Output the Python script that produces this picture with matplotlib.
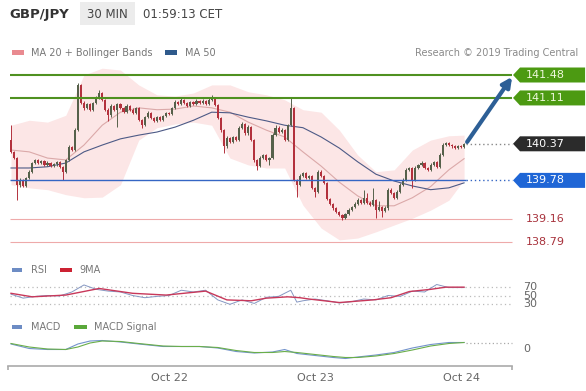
import matplotlib
matplotlib.use('Agg')
import matplotlib.pyplot as plt
from matplotlib.patches import Rectangle, Polygon
import numpy as np

# ---------------- DATA ----------------
first_open = 140.43
closes = [
    140.24, 140.14, 139.71, 139.79, 139.69, 139.82, 139.92, 140.06, 140.11, 140.06,
    140.09, 140.03, 140.06, 140.01, 140.04, 140.08, 140.00, 139.92, 140.11, 140.32,
    140.27, 140.59, 141.32, 141.03, 140.95, 141.01, 140.92, 141.03, 141.11, 141.19,
    141.08, 140.92, 140.83, 140.98, 140.92, 141.01, 140.95, 140.88, 140.98, 140.92,
    140.87, 140.95, 140.75, 140.67, 140.80, 140.87, 140.79, 140.74, 140.80, 140.75,
    140.82, 140.87, 140.85, 140.95, 141.04, 141.01, 141.08, 141.03, 140.98, 141.04,
    141.01, 141.06, 141.03, 141.06, 141.01, 141.08, 141.11, 141.00, 140.79, 140.59,
    140.33, 140.46, 140.40, 140.48, 140.43, 140.63, 140.69, 140.54, 140.64, 140.43,
    140.11, 140.01, 140.14, 140.19, 140.11, 140.14, 140.51, 140.63, 140.56, 140.59,
    140.43, 140.67, 140.95, 139.79, 139.71, 139.85, 139.90, 139.82, 139.85, 139.66,
    139.59, 139.92, 139.85, 139.74, 139.48, 139.40, 139.33, 139.27, 139.22, 139.17,
    139.24, 139.30, 139.35, 139.40, 139.46, 139.42, 139.50, 139.42, 139.38, 139.46,
    139.30, 139.35, 139.29, 139.33, 139.63, 139.58, 139.50, 139.59, 139.71, 139.79,
    139.95, 139.98, 139.79, 139.98, 140.03, 140.06, 139.98, 139.95, 140.03, 140.08,
    140.00, 140.19, 140.35, 140.38, 140.35, 140.33, 140.30, 140.33, 140.32, 140.37,
]
# wick extensions beyond the body, in hundredths of a yen
wick_hi = [
    24, 2, 2, 3, 2, 2, 3, 2, 2, 2,
    2, 2, 3, 2, 2, 2, 2, 2, 2, 3,
    2, 3, 3, 2, 3, 2, 2, 2, 3, 5,
    2, 2, 2, 3, 2, 2, 2, 2, 3, 2,
    2, 2, 2, 2, 2, 3, 2, 2, 2, 2,
    2, 2, 2, 2, 3, 2, 3, 2, 2, 2,
    2, 3, 2, 3, 2, 3, 4, 2, 2, 2,
    2, 3, 2, 2, 2, 3, 3, 2, 3, 2,
    2, 2, 3, 2, 2, 2, 3, 4, 2, 3,
    2, 2, 16, 2, 2, 3, 2, 2, 2, 2,
    2, 3, 2, 2, 2, 2, 2, 2, 2, 2,
    2, 3, 2, 3, 3, 2, 12, 8, 2, 20,
    2, 10, 2, 3, 3, 2, 2, 3, 3, 3,
    3, 2, 2, 3, 2, 3, 2, 2, 3, 2,
    2, 3, 3, 2, 2, 2, 2, 2, 2, 2,
]
wick_lo = [
    2, 2, 25, 3, 2, 2, 2, 2, 2, 2,
    2, 2, 2, 2, 2, 2, 2, 13, 2, 2,
    2, 2, 2, 2, 3, 2, 2, 2, 2, 2,
    2, 2, 9, 2, 2, 28, 2, 2, 2, 2,
    2, 2, 2, 5, 2, 2, 2, 2, 2, 2,
    2, 2, 2, 2, 2, 2, 2, 2, 2, 2,
    2, 2, 2, 2, 2, 2, 2, 2, 2, 3,
    11, 2, 2, 2, 2, 2, 2, 2, 2, 2,
    3, 6, 2, 2, 2, 8, 2, 2, 2, 2,
    2, 2, 2, 2, 20, 2, 2, 2, 2, 2,
    8, 2, 2, 2, 2, 2, 2, 2, 2, 3,
    2, 2, 2, 2, 2, 2, 2, 2, 2, 2,
    13, 2, 10, 2, 2, 2, 2, 2, 2, 2,
    2, 2, 13, 2, 2, 2, 2, 2, 2, 2,
    2, 2, 2, 2, 2, 2, 2, 2, 2, 2,
]

ma_idx = [0, 6, 12, 18, 24, 30, 36, 42, 48, 54, 60, 66, 72, 78, 84, 90, 96, 102,
          108, 114, 120, 126, 132, 138, 144, 149]
ma20 = [140.27, 140.24, 140.14, 140.11, 140.35, 140.67, 140.88, 140.95, 140.92, 140.93,
        140.98, 140.95, 140.88, 140.72, 140.59, 140.48, 140.24, 140.01, 139.75, 139.53,
        139.37, 139.37, 139.50, 139.68, 139.95, 140.13]
bb_upper = [140.67, 140.75, 140.72, 140.83, 141.48, 141.59, 141.56, 141.32, 141.16, 141.14,
            141.19, 141.32, 141.32, 141.21, 141.16, 141.08, 140.92, 140.88, 140.59, 140.19,
            139.92, 139.95, 140.27, 140.43, 140.50, 140.51]
bb_lower = [139.71, 139.66, 139.63, 139.55, 139.50, 139.51, 139.71, 140.43, 140.63, 140.69,
            140.72, 140.67, 140.14, 140.03, 139.98, 139.98, 139.38, 139.01, 138.82, 138.85,
            138.95, 139.06, 139.17, 139.30, 139.46, 139.79]
ma50 = [139.98, 139.98, 140.00, 140.06, 140.24, 140.35, 140.45, 140.51, 140.56, 140.64,
        140.75, 140.88, 140.87, 140.80, 140.74, 140.67, 140.63, 140.48, 140.30, 140.08,
        139.88, 139.77, 139.69, 139.63, 139.66, 139.74]

resistances = [141.48, 141.11]
pivot = 139.78
supports = [139.16, 138.79]
last_price = 140.37

rsi_idx = [0, 4, 8, 12, 16, 20, 24, 28, 32, 36, 40, 44, 48, 52, 56, 60, 64, 68, 72, 76,
           80, 84, 88, 92, 94, 96, 100, 104, 108, 112, 116, 120, 124, 128, 132, 136, 140, 144, 149]
rsi_val = [53, 44, 48, 50, 49, 58, 74, 64, 60, 58, 50, 45, 48, 50, 62, 58, 62, 40, 30, 40,
           32, 46, 48, 62, 35, 38, 42, 38, 33, 36, 42, 40, 50, 48, 60, 58, 75, 68, 68]
rsi9_idx = [0, 7, 18, 29, 40, 51, 64, 71, 79, 84, 91, 95, 98, 108, 119, 125, 131, 138, 143, 149]
rsi9_val = [55, 47, 51, 66, 55, 51, 60, 40, 38, 44, 47, 45, 42, 34, 40, 45, 59, 64, 69, 69]
rsi_levels = [70, 50, 30]

macd_idx = [0, 6, 12, 18, 22, 26, 30, 36, 42, 50, 56, 62, 68, 74, 80, 86, 90, 94, 100, 106,
            110, 114, 120, 126, 132, 138, 144, 149]
macd_val = [0.050, 0.005, -0.005, -0.005, 0.050, 0.080, 0.085, 0.070, 0.050, 0.025,
            0.025, 0.025, 0.010, -0.025, -0.040, -0.030, -0.005, -0.045, -0.065, -0.085,
            -0.095, -0.080, -0.060, -0.035, 0.010, 0.045, 0.065, 0.065]
signal_val = [0.055, 0.020, 0.000, -0.005, 0.020, 0.060, 0.080, 0.075, 0.055, 0.030,
              0.025, 0.025, 0.015, -0.015, -0.035, -0.035, -0.025, -0.035, -0.055, -0.075,
              -0.085, -0.085, -0.070, -0.045, -0.010, 0.030, 0.055, 0.065]

date_ticks = [52, 100, 148]
date_labels = ['Oct 22', 'Oct 23', 'Oct 24']

# ---------------- LAYOUT ----------------
W, H = 586, 391
fig = plt.figure(figsize=(W / 100, H / 100), dpi=100)
fig.patch.set_facecolor('white')
plt.rcParams['font.family'] = ['DejaVu Sans']


def axes_px(x0, y0, x1, y1):
    a = fig.add_axes([x0 / W, 1 - y1 / H, (x1 - x0) / W, (y1 - y0) / H])
    a.set_axis_off()
    a.patch.set_alpha(0)
    return a


XLIM = (-0.99, 189.1)          # maps to pixels 8 .. 586
X_LINE0, X_LINE1 = -0.33, 164.8  # pixel 10 .. 512
X_TIP, X_SH, X_END = 165.1, 167.4, 188.8

# ---------- main price panel ----------
ax = axes_px(8, 60, 586, 250)
ax.set_xlim(*XLIM)
ax.set_ylim(138.657, 141.722)
ppx = 62.0  # pixels per yen

ax.fill_between(ma_idx, bb_lower, bb_upper, color='#fce6e6', lw=0, zorder=1)
ax.plot(ma_idx, ma20, color='#dba9a9', lw=0.8, zorder=2)
ax.plot(ma_idx, ma50, color='#4d5a86', lw=0.8, zorder=2)

n = len(closes)
idx = np.arange(n)
c = np.array(closes)
o = np.concatenate([[first_open], c[:-1]])
hi = np.maximum(o, c) + np.array(wick_hi) / 100
lo = np.minimum(o, c) - np.array(wick_lo) / 100
up = c >= o
col = np.where(up, '#56614b', '#b3313d')
ax.vlines(idx, lo, hi, colors=col, lw=0.7, zorder=3)
body_b = np.minimum(o, c)
body_h = np.maximum(np.abs(c - o), 0.012)
ax.bar(idx, body_h, bottom=body_b, width=0.7, color=col, lw=0, zorder=3)

# level lines
for lv in resistances:
    ax.hlines(lv, X_LINE0, X_LINE1, color='#4f9120', lw=1.5, zorder=4)
ax.hlines(pivot, X_LINE0, idx[-1] + 0.5, color='#3566c4', lw=1.0, zorder=4)
ax.hlines(pivot, idx[-1] + 0.5, X_LINE1, color='#3566c4', lw=1.0, ls=(0, (1, 2)), zorder=4)
ax.hlines(last_price, idx[-1] + 0.5, X_LINE1, color='#888888', lw=1.0, ls=(0, (1, 2)), zorder=4)
for lv in supports:
    ax.hlines(lv, X_LINE0, X_LINE1, color='#eeaaaa', lw=0.8, zorder=2)


def tag(level, face, tcol):
    hh = 7.5 / ppx
    poly = Polygon([(X_TIP, level), (X_SH, level + hh), (X_END, level + hh),
                    (X_END, level - hh), (X_SH, level - hh)], closed=True,
                   facecolor=face, edgecolor='none', zorder=5, clip_on=False)
    ax.add_patch(poly)
    ax.text(X_SH + 2.0, level, f'{level:.2f}', color=tcol, fontsize=8,
            va='center', ha='left', zorder=6)


for lv in resistances:
    tag(lv, '#4c9a12', '#eef8dc')
tag(last_price, '#2b2b2b', '#ffffff')
tag(pivot, '#1f66d6', '#ffffff')
for lv in supports:
    ax.text(X_SH + 2.0, lv, f'{lv:.2f}', color='#a8323c', fontsize=8,
            va='center', ha='left', zorder=6)

# projection arrow
ax.annotate('', xy=(X_TIP - 0.3, resistances[0] - 0.03),
            xytext=(idx[-1] + 1.0, last_price + 0.03),
            arrowprops=dict(arrowstyle='-|>', color='#2d5f96', lw=3.0,
                            mutation_scale=14, shrinkA=0, shrinkB=0),
            zorder=7, annotation_clip=False)

# ---------- RSI panel ----------
ar = axes_px(8, 278, 586, 314)
ar.set_xlim(*XLIM)
ar.set_ylim(7.95, 89.8)
for lv in rsi_levels:
    ar.hlines(lv, X_LINE0, X_LINE1, color='#bbbbbb', lw=0.9, ls=(0, (1, 2.5)))
    ar.text(168.3, lv, str(lv), fontsize=8, color='#666666', va='center', ha='left')
ar.plot(rsi_idx, rsi_val, color='#8597c2', lw=0.7)
ar.plot(rsi9_idx, rsi9_val, color='#c8385a', lw=1.0)

# ---------- MACD panel ----------
am = axes_px(8, 334, 586, 362)
am.set_xlim(*XLIM)
am.set_ylim(-0.13, 0.15)
am.plot(macd_idx, macd_val, color='#7393cc', lw=0.8)
am.plot(macd_idx, signal_val, color='#6aae4a', lw=0.8)
am.hlines(macd_val[-1], macd_idx[-1] + 0.5, X_LINE1, color='#aaaaaa', lw=0.9, ls=(0, (1, 2)))
am.text(168.6, 0.0, '0', fontsize=8, color='#666666', va='center', ha='left')

# ---------- time axis ----------
at = fig.add_axes([8 / W, 1 - 366 / H, 578 / W, 4 / H])
at.set_xlim(*XLIM)
at.patch.set_alpha(0)
for s in ['top', 'left', 'right']:
    at.spines[s].set_visible(False)
at.spines['bottom'].set_color('#aaaaaa')
at.spines['bottom'].set_linewidth(1.2)
at.spines['bottom'].set_bounds(-0.99, X_LINE1)
at.set_yticks([])
at.set_xticks(date_ticks)
at.set_xticklabels(date_labels, fontsize=8, color='#666666')
at.tick_params(axis='x', which='major', length=0, pad=5)
at.set_xticks([-0.99, X_LINE1], minor=True)
at.tick_params(axis='x', which='minor', length=3, width=1.2, color='#aaaaaa', direction='out')

# ---------- decorations (pixel space) ----------
d = fig.add_axes([0, 0, 1, 1])
d.set_xlim(0, W)
d.set_ylim(H, 0)
d.set_axis_off()
d.patch.set_alpha(0)

d.text(9, 14.5, 'GBP/JPY', fontsize=9.5, fontweight='bold', color='#333333', va='center', ha='left')
d.add_patch(Rectangle((80, 2), 55, 23, facecolor='#ececec', edgecolor='none'))
d.text(107.5, 14.5, '30 MIN', fontsize=8.5, color='#444444', va='center', ha='center')
d.text(143, 14.5, '01:59:13 CET', fontsize=8.5, color='#444444', va='center', ha='left')

d.add_patch(Rectangle((11.5, 50), 12, 5, facecolor='#e98a90', edgecolor='none'))
d.text(31, 52.5, 'MA 20 + Bollinger Bands', fontsize=7, color='#777777', va='center', ha='left')
d.add_patch(Rectangle((165, 50), 12, 5, facecolor='#2f5a8c', edgecolor='none'))
d.text(185, 52.5, 'MA 50', fontsize=7, color='#777777', va='center', ha='left')
d.text(578, 52.5, 'Research \u00a9 2019 Trading Central', fontsize=7, color='#8a8a8a',
       va='center', ha='right')

d.add_patch(Rectangle((11.5, 268), 10, 4, facecolor='#6d8cc4', edgecolor='none'))
d.text(31, 270, 'RSI', fontsize=7, color='#777777', va='center', ha='left')
d.add_patch(Rectangle((60, 268), 12, 4, facecolor='#cc2233', edgecolor='none'))
d.text(79, 270, '9MA', fontsize=7, color='#777777', va='center', ha='left')

d.add_patch(Rectangle((11.5, 325), 10, 4, facecolor='#6d8cc4', edgecolor='none'))
d.text(31, 327, 'MACD', fontsize=7, color='#777777', va='center', ha='left')
d.add_patch(Rectangle((74, 325), 13, 4, facecolor='#5aa83a', edgecolor='none'))
d.text(94, 327, 'MACD Signal', fontsize=7, color='#777777', va='center', ha='left')

fig.savefig('out.png', dpi=100, facecolor='white')
